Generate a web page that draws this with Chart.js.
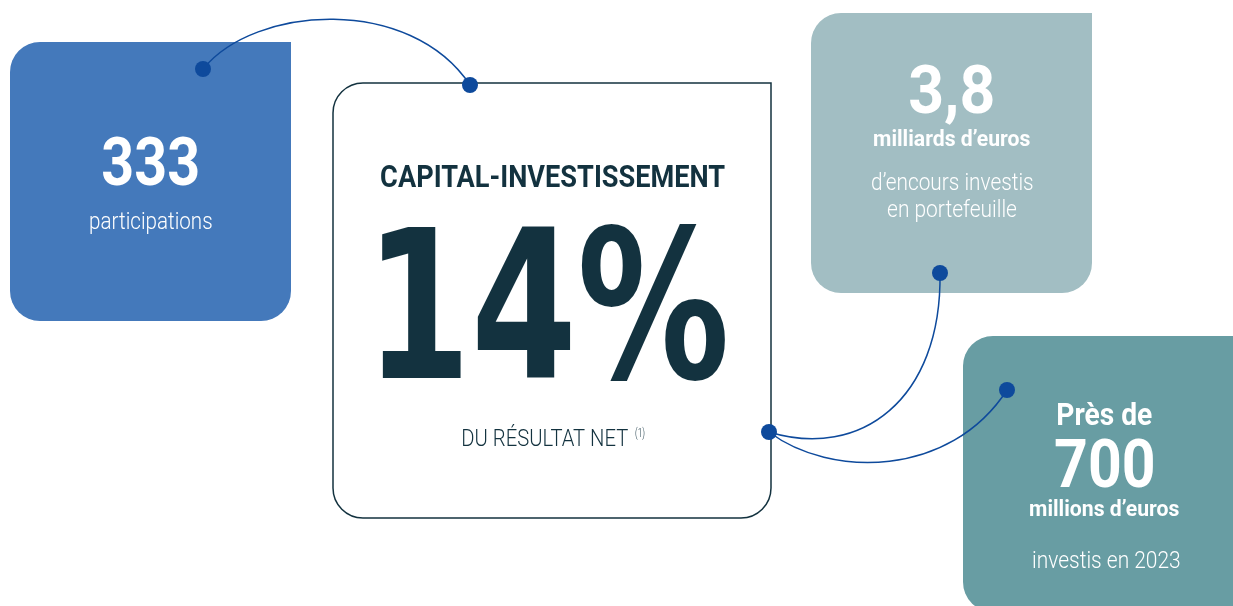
<!DOCTYPE html>
<html>
<head>
<meta charset="utf-8">
<script src="https://cdn.jsdelivr.net/npm/chart.js@4"></script>
<style>
  html, body { margin: 0; padding: 0; background: #fff; overflow: hidden; }
  canvas { display: block; }
</style>
</head>
<body>
<canvas id="infographic" width="1233" height="606"></canvas>
<script>
// ---------- Data ----------
const figures = ["333", "14%", "3,8", "700"];
const headlines = ["", "CAPITAL-INVESTISSEMENT", "", "Près de"];
const units = ["", "", "milliards d’euros", "millions d’euros"];
const captions = [["participations"], ["DU RÉSULTAT NET"], ["d’encours investis", "en portefeuille"], ["investis en 2023"]];
const footnotes = ["", "(1)", "", ""];

// ---------- Layout (canvas units, 1 unit = 1 px) ----------
const W = 1233, H = 606;
const NAVY = "#13323f";
const LINK = "#0e4a9c";

const boxes = [
  { x0: 10, y0: 42, x1: 291, y1: 321, fill: "#4479bb", radii: [30, 0, 30, 30] },
  { x0: 333, y0: 83, x1: 771, y1: 518, fill: "#ffffff", stroke: NAVY, radii: [30, 0, 30, 30] },
  { x0: 811, y0: 13, x1: 1092, y1: 293, fill: "#a2bec3", radii: [30, 0, 30, 30] },
  { x0: 963, y0: 336, x1: 1245, y1: 612, fill: "#689da3", radii: [30, 0, 30, 30] },
];

// text rows: [left, right, baseline, font]
const white = "#ffffff";
const textRows = [
  { figure: [103, 198, 185, "700 67px Roboto"], caption: [[90, 212, 229, "300 23px Roboto"]], color: white },
  { headline: [381, 725, 187, "700 31px Roboto"], figure: [382, 725, 378, "bold 207px 'DejaVu Sans'"],
    caption: [[463, 628, 446, "300 24px Roboto"]], note: [635, 645, 437, "300 12px Roboto"], color: NAVY },
  { figure: [910, 993, 113, "700 67px Roboto"], unit: [874, 1030, 146, "700 22px Roboto"],
    caption: [[872, 1033, 190, "300 23px Roboto"], [888, 1017, 217, "300 23px Roboto"]], color: white },
  { headline: [1058, 1152, 425, "700 32px Roboto"], figure: [1055, 1153, 487, "700 66px Roboto"],
    unit: [1030, 1179, 516, "700 22px Roboto"], caption: [[1033, 1180, 568, "300 23px Roboto"]], color: white },
];

// connector dots and bezier links between them
const dotX = [203, 470, 769, 940, 1007];
const dotY = [69, 85, 432, 273, 390];
const links = [
  [[203, 69], [255, 5], [410, -5], [470, 85]],
  [[769, 432], [860, 460], [942, 400], [940, 273]],
  [[769, 432], [830, 478], [950, 478], [1007, 390]],
];

// ---------- Helpers ----------
function fitText(ctx, text, spec, color) {
  if (!text || !spec) return;
  const [left, right, base, font] = spec;
  ctx.save();
  ctx.font = font;
  ctx.textAlign = "left";
  ctx.textBaseline = "alphabetic";
  const m = ctx.measureText(text);
  const w = m.actualBoundingBoxLeft + m.actualBoundingBoxRight;
  ctx.translate(left, base);
  ctx.scale((right - left) / w, 1);
  ctx.fillStyle = color;
  ctx.fillText(text, m.actualBoundingBoxLeft, 0);
  ctx.restore();
}

const cardsPlugin = {
  id: "cards",
  beforeDatasetsDraw(chart) {
    const { ctx, scales: { x, y } } = chart;
    const px = (v) => x.getPixelForValue(v);
    const py = (v) => y.getPixelForValue(v);

    boxes.forEach((b) => {
      ctx.save();
      ctx.beginPath();
      ctx.roundRect(px(b.x0), py(b.y0), px(b.x1) - px(b.x0), py(b.y1) - py(b.y0), b.radii);
      ctx.fillStyle = b.fill;
      ctx.fill();
      if (b.stroke) {
        ctx.lineWidth = 1.5;
        ctx.strokeStyle = b.stroke;
        ctx.stroke();
      }
      ctx.restore();
    });

    ctx.save();
    ctx.lineWidth = 1.5;
    ctx.strokeStyle = LINK;
    links.forEach((l) => {
      ctx.beginPath();
      ctx.moveTo(px(l[0][0]), py(l[0][1]));
      ctx.bezierCurveTo(px(l[1][0]), py(l[1][1]), px(l[2][0]), py(l[2][1]), px(l[3][0]), py(l[3][1]));
      ctx.stroke();
    });
    ctx.restore();

    const toPx = (s) => s && [px(s[0]), px(s[1]), py(s[2]), s[3]];
    textRows.forEach((row, i) => {
      fitText(ctx, headlines[i], toPx(row.headline), row.color);
      fitText(ctx, figures[i], toPx(row.figure), row.color);
      fitText(ctx, units[i], toPx(row.unit), row.color);
      captions[i].forEach((c, j) => fitText(ctx, c, toPx(row.caption[j]), row.color));
      fitText(ctx, footnotes[i], toPx(row.note), row.color);
    });
  },
};

new Chart(document.getElementById("infographic"), {
  type: "scatter",
  data: {
    datasets: [
      {
        data: dotX.map((v, i) => ({ x: v, y: dotY[i] })),
        pointRadius: 8,
        pointHoverRadius: 8,
        pointBackgroundColor: LINK,
        pointBorderWidth: 0,
        clip: false,
      },
    ],
  },
  options: {
    responsive: false,
    animation: false,
    devicePixelRatio: 1,
    layout: { padding: 0, autoPadding: false },
    scales: {
      x: { type: "linear", min: 0, max: W, display: false },
      y: { type: "linear", min: 0, max: H, reverse: true, display: false },
    },
    plugins: { legend: { display: false }, tooltip: { enabled: false } },
  },
  plugins: [cardsPlugin],
});
</script>
</body>
</html>
